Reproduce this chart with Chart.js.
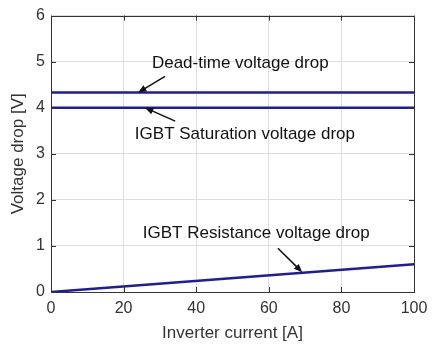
<!DOCTYPE html>
<html>
<head>
<meta charset="utf-8">
<script src="https://cdn.jsdelivr.net/npm/chart.js@4/dist/chart.umd.min.js"></script>
<style>
	html, body { margin: 0; padding: 0; background: #fff; }
	#wrap { width: 436px; height: 347px; }
</style>
</head>
<body>
<div id="wrap"><canvas id="chart" width="436" height="347"></canvas></div>
<script>
// values
const current = [0, 100];
const deadTime = [4.33, 4.33];
const saturation = [4.0, 4.0];
const resistance = [0, 0.6];

const xTicks = [0, 20, 40, 60, 80, 100];
const yTicks = [0, 1, 2, 3, 4, 5, 6];

// annotation texts, placed in data units
const notes = [
	{ text: 'Dead-time voltage drop', x: 27.8, y: 4.97 },
	{ text: 'IGBT Saturation voltage drop', x: 23.1, y: 3.43 },
	{ text: 'IGBT Resistance voltage drop', x: 25.3, y: 1.27 }
];
const arrows = [
	{ from: [31.4, 4.68], to: [24.0, 4.33] },
	{ from: [34.2, 3.71], to: [25.9, 4.0] },
	{ from: [62.5, 0.95], to: [69.2, 0.43] }
];

const lineColor = '#1c1ca0';
const font = 'Arial, "Liberation Sans", sans-serif';

function pts(ys) {
	return current.map(function (x, i) { return { x: x, y: ys[i] }; });
}

const decor = {
	id: 'decor',
	afterDraw: function (chart) {
		const ctx = chart.ctx;
		const a = chart.chartArea;
		const sx = chart.scales.x, sy = chart.scales.y;
		ctx.save();

		// inward ticks on all four sides
		ctx.strokeStyle = '#333';
		ctx.lineWidth = 1;
		ctx.beginPath();
		xTicks.forEach(function (v) {
			const px = Math.round(sx.getPixelForValue(v)) + 0.5;
			ctx.moveTo(px, a.bottom); ctx.lineTo(px, a.bottom - 5);
			ctx.moveTo(px, a.top); ctx.lineTo(px, a.top + 5);
		});
		yTicks.forEach(function (v) {
			const py = Math.round(sy.getPixelForValue(v)) + 0.5;
			ctx.moveTo(a.left, py); ctx.lineTo(a.left + 5, py);
			ctx.moveTo(a.right, py); ctx.lineTo(a.right - 5, py);
		});
		ctx.stroke();
		ctx.strokeRect(Math.round(a.left) + 0.5, Math.round(a.top) + 0.5,
			Math.round(a.right - a.left), Math.round(a.bottom - a.top));

		// texts
		ctx.fillStyle = '#111';
		ctx.font = '17px ' + font;
		ctx.textBaseline = 'middle';
		ctx.textAlign = 'left';
		notes.forEach(function (n) {
			ctx.fillText(n.text, sx.getPixelForValue(n.x), sy.getPixelForValue(n.y));
		});

		// arrows
		ctx.strokeStyle = '#111';
		ctx.fillStyle = '#111';
		ctx.lineWidth = 1.5;
		arrows.forEach(function (ar) {
			const x0 = sx.getPixelForValue(ar.from[0]), y0 = sy.getPixelForValue(ar.from[1]);
			const x1 = sx.getPixelForValue(ar.to[0]), y1 = sy.getPixelForValue(ar.to[1]);
			const ang = Math.atan2(y1 - y0, x1 - x0);
			const len = 9, w = 0.4;
			ctx.beginPath();
			ctx.moveTo(x0, y0);
			ctx.lineTo(x1 - Math.cos(ang) * len * 0.8, y1 - Math.sin(ang) * len * 0.8);
			ctx.stroke();
			ctx.beginPath();
			ctx.moveTo(x1, y1);
			ctx.lineTo(x1 - len * Math.cos(ang - w), y1 - len * Math.sin(ang - w));
			ctx.lineTo(x1 - len * Math.cos(ang + w), y1 - len * Math.sin(ang + w));
			ctx.closePath();
			ctx.fill();
		});

		// axis titles
		ctx.fillStyle = '#333';
		ctx.font = '17px ' + font;
		ctx.textAlign = 'center';
		ctx.fillText('Inverter current [A]', (a.left + a.right) / 2, 333);
		ctx.translate(18, (a.top + a.bottom) / 2);
		ctx.rotate(-Math.PI / 2);
		ctx.fillText('Voltage drop [V]', 0, 0);
		ctx.restore();
	}
};

new Chart(document.getElementById('chart'), {
	type: 'line',
	data: {
		datasets: [
			{ label: 'Dead-time', data: pts(deadTime), borderColor: lineColor, borderWidth: 2.5, pointRadius: 0, fill: false },
			{ label: 'Saturation', data: pts(saturation), borderColor: lineColor, borderWidth: 2.5, pointRadius: 0, fill: false },
			{ label: 'Resistance', data: pts(resistance), borderColor: lineColor, borderWidth: 2.5, pointRadius: 0, fill: false }
		]
	},
	options: {
		responsive: false,
		animation: false,
		events: [],
		layout: { padding: { top: 14, right: 22, left: 0, bottom: 0 } },
		plugins: { legend: { display: false }, tooltip: { enabled: false } },
		scales: {
			x: {
				type: 'linear',
				min: 0, max: 100,
				afterBuildTicks: function (s) { s.ticks = xTicks.map(function (v) { return { value: v }; }); },
				afterFit: function (s) { s.height = 55; },
				grid: { color: '#dedede', drawTicks: false },
				border: { display: false },
				ticks: { color: '#333', font: { family: font, size: 16 }, padding: 7, maxRotation: 0 }
			},
			y: {
				min: 0, max: 6,
				afterBuildTicks: function (s) { s.ticks = yTicks.map(function (v) { return { value: v }; }); },
				afterFit: function (s) { s.width = 51; },
				grid: { color: '#dedede', drawTicks: false },
				border: { display: false },
				ticks: { color: '#333', font: { family: font, size: 16 }, padding: 6 }
			}
		}
	},
	plugins: [decor]
});
</script>
</body>
</html>
